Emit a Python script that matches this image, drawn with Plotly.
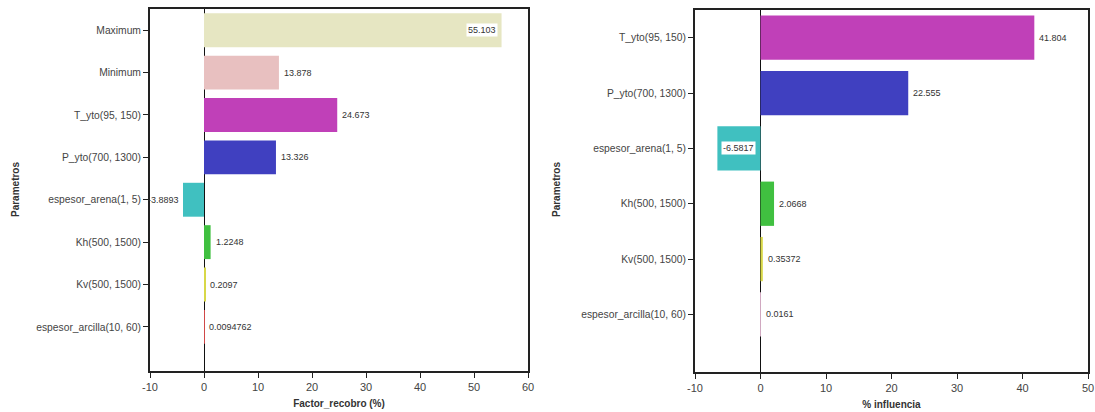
import plotly.graph_objects as go

# Recovery factor sensitivity (tornado-style bars)
recobro_params = ["Maximum", "Minimum", "T_yto(95, 150)", "P_yto(700, 1300)",
                  "espesor_arena(1, 5)", "Kh(500, 1500)", "Kv(500, 1500)",
                  "espesor_arcilla(10, 60)"]
recobro_values = [55.103, 13.878, 24.673, 13.326, -3.8893, 1.2248, 0.2097, 0.0094762]
recobro_text = ["55.103", "13.878", "24.673", "13.326", "-3.8893", "1.2248", "0.2097", "0.0094762"]
recobro_colors = ["#e6e6c2", "#e8c0c0", "#c040b8", "#4040c0", "#40c0c0", "#40c040",
                  "#d8d848", "#d04848"]

# Influence percentage per parameter
influencia_params = ["T_yto(95, 150)", "P_yto(700, 1300)", "espesor_arena(1, 5)",
                     "Kh(500, 1500)", "Kv(500, 1500)", "espesor_arcilla(10, 60)"]
influencia_values = [41.804, 22.555, -6.5817, 2.0668, 0.35372, 0.0161]
influencia_text = ["41.804", "22.555", "-6.5817", "2.0668", "0.35372", "0.0161"]
influencia_colors = ["#c040b8", "#4040c0", "#40c0c0", "#40c040", "#d8d848", "#d0a8c0"]

xticks_left = [-10, 0, 10, 20, 30, 40, 50, 60]
xticks_right = [-10, 0, 10, 20, 30, 40, 50]

W, H = 1095, 412
FONT = "Liberation Sans, Arial, sans-serif"

fig = go.Figure()

panels = [
    dict(xa="x", ya="y", params=recobro_params, vals=recobro_values, txt=recobro_text,
         cols=recobro_colors, xdom=(150 / W, 528 / W), ydom=(1 - 371 / H, 1 - 9 / H),
         xrange=[-10, 60], ticks=xticks_left, title="Factor_recobro (%)",
         inside={"Maximum": "end"}, ytitle_x=15),
    dict(xa="x2", ya="y2", params=influencia_params, vals=influencia_values, txt=influencia_text,
         cols=influencia_colors, xdom=(695 / W, 1088 / W), ydom=(1 - 372 / H, 1 - 10 / H),
         xrange=[-10, 50], ticks=xticks_right, title="% influencia",
         inside={"espesor_arena(1, 5)": "middle"}, ytitle_x=556),
]

annotations = []
for i, p in enumerate(panels):
    fig.add_trace(go.Bar(
        x=p["vals"], y=p["params"], orientation="h", width=0.8,
        marker=dict(color=p["cols"], line=dict(width=0)),
        xaxis=p["xa"], yaxis=p["ya"], showlegend=False, hoverinfo="x+y",
    ))
    sfx = "" if i == 0 else "2"
    n = len(p["params"])
    fig.update_layout(**{
        "xaxis" + sfx: dict(
            domain=list(p["xdom"]), anchor=p["ya"], range=p["xrange"], automargin=False,
            tickvals=p["ticks"], ticktext=[str(t) for t in p["ticks"]],
            ticks="outside", ticklen=5, tickcolor="#222",
            showline=True, linecolor="#222", linewidth=2, mirror=True,
            showgrid=False, zeroline=True, zerolinecolor="#111", zerolinewidth=1,
            tickfont=dict(size=11, color="#444", family=FONT),
            title=dict(text="<b>" + p["title"] + "</b>", standoff=8,
                       font=dict(size=10, color="#333", family=FONT)),
        ),
        "yaxis" + sfx: dict(
            domain=list(p["ydom"]), anchor=p["xa"], type="category", automargin=False,
            categoryorder="array", categoryarray=p["params"],
            range=[n - 1 + 1.04, -0.5], ticks="outside", ticklen=5, tickcolor="#222",
            showline=True, linecolor="#222", linewidth=2, mirror=True,
            showgrid=False, tickfont=dict(size=10.3, color="#444", family=FONT),
        ),
    })
    # rotated axis title
    annotations.append(dict(x=p["ytitle_x"] / W, y=1 - 190 / H, xref="paper", yref="paper",
                            text="<b>Parametros</b>", textangle=-90, showarrow=False,
                            xanchor="center", yanchor="middle",
                            font=dict(size=10, color="#333", family=FONT)))
    # value labels next to (or inside) each bar
    for name, v, t in zip(p["params"], p["vals"], p["txt"]):
        mode = p["inside"].get(name)
        base = dict(y=name, xref=p["xa"], yref=p["ya"], text=t, showarrow=False,
                    font=dict(size=9, color="#333", family=FONT))
        if mode == "end":
            annotations.append(dict(base, x=v, xanchor="right", xshift=-4,
                                    bgcolor="white", borderpad=1))
        elif mode == "middle":
            annotations.append(dict(base, x=v / 2, xanchor="center",
                                    bgcolor="white", borderpad=1))
        elif v < 0:
            annotations.append(dict(base, x=v, xanchor="right", xshift=-2))
        else:
            annotations.append(dict(base, x=v, xanchor="left", xshift=3))

fig.update_layout(
    width=W, height=H, margin=dict(l=0, r=0, t=0, b=0, autoexpand=False),
    paper_bgcolor="white", plot_bgcolor="white",
    annotations=annotations,
)

fig.write_html("out.html")
